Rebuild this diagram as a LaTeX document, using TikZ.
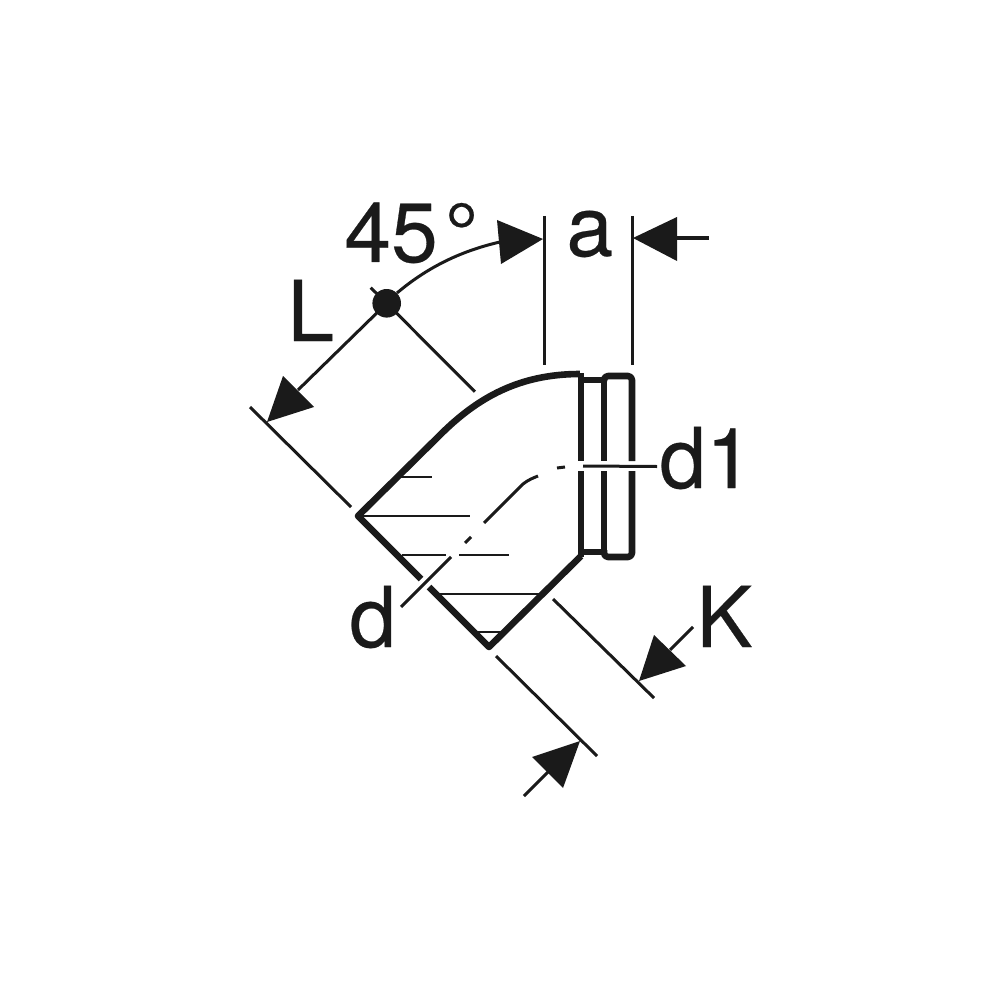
\documentclass[tikz,border=0pt]{standalone}
\usepackage{fontspec}
\setmainfont{TeX Gyre Heros}
\newfontfamily\dimfont{TeX Gyre Heros}[FakeBold=0.3]
\definecolor{ink}{HTML}{1A1A1A}
\tikzset{
  thick line/.style={draw=ink,line width=3.3pt,line join=round,line cap=butt},
  dim line/.style={draw=ink,line width=1.5pt},
  hatch line/.style={draw=ink,line width=1.1pt},
  arrow head/.style={fill=ink,draw=none},
  dim label/.style={font=\dimfont\fontsize{42}{42}\selectfont,text=ink,inner sep=0pt,anchor=base west},
}
\begin{document}
\begin{tikzpicture}[x=0.5pt,y=-0.5pt]
\useasboundingbox (0,0) rectangle (1000,1000);
\fill[white] (0,0) rectangle (1000,1000);
% body
\draw[thick line] (421,579) -- (358,516) -- (440,435) .. controls (478,397) and (520,374) .. (580,374);
\draw[thick line] (429,587) -- (489,647) -- (581,556);
% verticals
\draw[thick line] (581,373) -- (581,461) (581,471) -- (581,557);
\draw[thick line] (604,378) -- (604,461) (604,471) -- (604,555);
\draw[thick line,rounded corners=2pt] (604,381) -- (604,376) -- (632,376) -- (632,461);
\draw[thick line,rounded corners=2pt] (632,471) -- (632,557) -- (604,557) -- (604,550);
\draw[thick line,line width=2.8pt] (581,380) -- (604,380) (581,552) -- (604,552);
% hatching
\draw[hatch line] (400,477) -- (432,477) (363,516) -- (470,516) (402,555) -- (446,555)
  (459,555) -- (509,555) (440,594) -- (540,594) (477,632) -- (503,632);
% centre line
\draw[dim line] (401,607) -- (451,557) (465,543) -- (471,537)
  (484,523) -- (523,484) .. controls (528,480) and (533,478) .. (538,476) (557,468) -- (565,467);
\draw[dim line] (583,466) -- (657,466.5);
% extension lines
\draw[dim line] (250,407) -- (351,507) (553,599) -- (654,698) (496,656) -- (597,756);
\draw[dim line] (544,216) -- (544,365) (632,216) -- (632,365);
% L and centre
\coordinate (centre) at (386.7,303.3);
\draw[dim line] (370.7,287.7) -- (centre) -- (475,391.7);
\draw[dim line] (centre) -- (298,390);
\draw[dim line] (397,293) .. controls (430,265) and (465,250) .. (500,242);
\fill[ink] (centre) circle (14.3);
% arrowheads
\fill[arrow head] (267,422) -- (283,376) -- (314,407) -- cycle;
\fill[arrow head] (543,239) -- (497,220) -- (501,264) -- cycle;
\fill[arrow head] (633,238) -- (677,217) -- (677,261) -- cycle;
\draw[dim line] (677,238) -- (709,238);
\fill[arrow head] (639,681) -- (654,635) -- (686,666) -- cycle;
\draw[dim line] (670,650) -- (693,627);
\fill[arrow head] (580,741) -- (532,757) -- (563,788) -- cycle;
\draw[dim line] (524,796) -- (548,772);
% labels
\node[dim label] (angle) at (344,262) {45\kern3.5pt °};
\node[dim label] (lenL) at (287,341) {L};
\node[dim label] (lena) at (566,256) {a};
\node[dim label] (dia1) at (659,488) {d1};
\node[dim label] (dia) at (349,647) {d};
\node[dim label] (lenK) at (696,647) {K};
\end{tikzpicture}
\end{document}
